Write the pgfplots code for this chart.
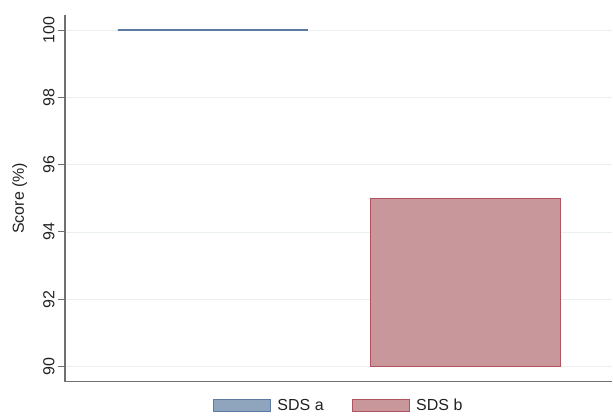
\documentclass[border=0pt]{standalone}
\usepackage{fontspec}
\setmainfont{Liberation Sans}
\usepackage{pgfplots}
\pgfplotsset{compat=1.18}
\usepgfplotslibrary{statistics}
\definecolor{blueedge}{HTML}{5B7BA3}
\definecolor{bluefill}{HTML}{8EA5BD}
\definecolor{rededge}{HTML}{B05560}
\definecolor{redfill}{HTML}{C8979B}
\definecolor{axisgray}{HTML}{707070}
\definecolor{gridc}{HTML}{EAF0F2}
\definecolor{txt}{HTML}{222222}
\begin{document}
\begin{tikzpicture}
\begin{axis}[
  width=548pt, height=367pt, scale only axis,
  xmin=0, xmax=548, ymin=89.55, ymax=100.45,
  axis x line*=bottom, axis y line*=left,
  axis line style={axisgray, line width=1.3pt},
  xtick=\empty,
  ytick={90,92,94,96,98,100},
  ymajorgrids, grid style={gridc, line width=0.8pt},
  tick align=outside, major tick length=7pt,
  tick style={axisgray, line width=1pt},
  /pgf/number format/assume math mode=true,
  yticklabel style={rotate=90, anchor=south, font=\fontsize{16}{19}\selectfont, text=txt},
  ylabel={Score (\%)},
  ylabel shift=9pt,
  ylabel style={font=\fontsize{16}{19}\selectfont, text=txt},
  clip=false,
  boxplot/draw direction=y,
  legend image code/.code={\draw[#1, line width=1.3pt] (0pt,-6pt) rectangle (57pt,6pt);
    \path[draw=none, fill=none] (0pt,0pt) -- (62pt,0pt);},
  legend style={at={(0.5,-0.065)}, anchor=center, draw=none, fill=none,
    legend columns=2, font=\fontsize{16}{19}\selectfont, text=txt,
    /tikz/every even column/.append style={column sep=26pt}},
]
\addplot+[boxplot prepared={draw position=148, box extend=190,
  lower whisker=100, lower quartile=100, median=100, upper quartile=100, upper whisker=100,
  whisker extend=0}, draw=blueedge, fill=bluefill, line width=1.5pt, mark=none, forget plot]
  coordinates {};
\addplot+[boxplot prepared={draw position=401, box extend=190,
  lower whisker=90, lower quartile=90, median=90, upper quartile=95, upper whisker=95,
  whisker extend=0}, draw=rededge, fill=redfill, line width=1.5pt, mark=none, forget plot]
  coordinates {};
\addlegendimage{draw=blueedge, fill=bluefill}
\addlegendentry{SDS a}
\addlegendimage{draw=rededge, fill=redfill}
\addlegendentry{SDS b}
\path (rel axis cs:-0.1186,-0.0954) rectangle (rel axis cs:1,1.0409);
\end{axis}
\end{tikzpicture}
\end{document}
